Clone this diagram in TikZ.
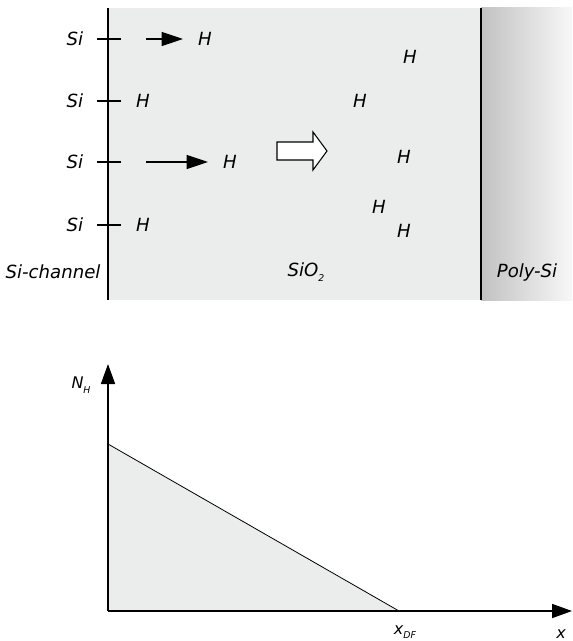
\documentclass[tikz,border=0pt]{standalone}
\usepackage{fontspec}
\setmainfont{DejaVu Sans}
\usetikzlibrary{arrows.meta}

\definecolor{oxide}{RGB}{235,236,236}

\tikzset{
  lbl/.style={font=\itshape\fontsize{13.6}{16}\selectfont, inner sep=0pt},
  axlbl/.style={font=\itshape\fontsize{12}{14}\selectfont, inner sep=0pt},
  hop/.style={line width=0.8pt, -{Triangle[length=16pt,width=10.5pt]}},
  axis/.style={line width=1.2pt, -{Triangle[length=15pt,width=10.5pt]}},
}
\newcommand{\lowsub}[1]{\raisebox{-3.5pt}{\fontsize{7}{8}\selectfont #1}}

\begin{document}
\begin{tikzpicture}[x=0.75pt, y=-0.75pt]
  \useasboundingbox (0,0) rectangle (572,641);
  \def\wall{108}
  \def\gate{481}

  % layers
  \fill[oxide] (\wall,8) rectangle (\gate,300);
  \shade[left color=black!24, right color=black!3] (\gate,8) rectangle (572,300);
  \draw[line width=1.1pt] (\wall,8) -- (\wall,300);
  \draw[line width=1.1pt] (\gate,8) -- (\gate,300);

  % Si-H bonds at the interface
  \foreach [count=\j] \y in {39,101,162,225} {
    \node[lbl] (si\j) at (75,\y) {Si};
    \draw[line width=0.8pt] (97,\y) -- (121,\y);
  }
  \node[lbl] (h1) at (205,39) {H};
  \node[lbl] (h2) at (143,101) {H};
  \node[lbl] (h3) at (230,162) {H};
  \node[lbl] (h4) at (143,225) {H};
  \coordinate (s1) at (146,39);
  \coordinate (s3) at (146,162);
  \draw[hop] (s1) -- (183,39);
  \draw[hop] (s3) -- (208,162);

  % diffusion arrow
  \draw[line width=0.8pt, fill=white] (277,142) -- (313,142) -- (313,132) -- (327,151)
    -- (313,170) -- (313,160) -- (277,160) -- cycle;

  % released hydrogen
  \node[lbl] (f1) at (410,57) {H};
  \node[lbl] (f2) at (360,101) {H};
  \node[lbl] (f3) at (404,157) {H};
  \node[lbl] (f4) at (379,207) {H};
  \node[lbl] (f5) at (404,231) {H};

  \node[lbl] (chan) at (53,272) {Si-channel};
  \node[lbl] (ox) at (306,272) {SiO\lowsub{2}};
  \node[lbl] (poly) at (527,272) {Poly-Si};

  % profile
  \coordinate (o) at (\wall,611);
  \coordinate (ytop) at (\wall,364);
  \coordinate (xend) at (572,611);
  \coordinate (n0) at (\wall,444);
  \coordinate (xdf) at (399,611);
  \fill[oxide] (o) -- (n0) -- (xdf) -- cycle;
  \draw[line width=0.6pt] (n0) -- (xdf);
  \draw[axis] (o) -- (ytop);
  \draw[axis] (o) -- (xend);
  \node[axlbl] (nh) at (81,385) {N\lowsub{H}};
  \node[axlbl] (xdflbl) at (405,632) {x\lowsub{DF}};
  \node[axlbl] (xlbl) at (561,634) {x};
\end{tikzpicture}
\end{document}
